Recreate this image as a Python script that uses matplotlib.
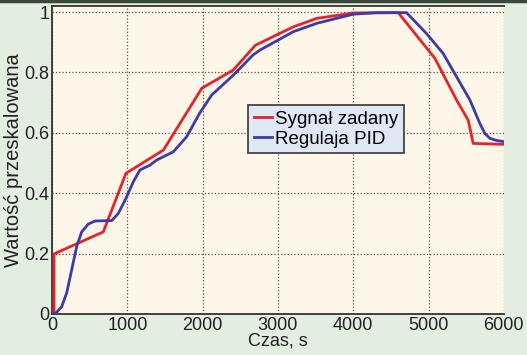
import matplotlib
matplotlib.use("Agg")
import matplotlib.pyplot as plt
from matplotlib.lines import Line2D

plt.rcParams['font.family'] = ['Liberation Sans', 'DejaVu Sans']

# Setpoint (Sygnał zadany)
t_set = [0, 27, 27, 681, 982, 1480, 1990, 2407, 2700, 3204, 3514, 4000, 4598,
         5084, 5372, 5527, 5593, 6000]
v_set = [0, 0, 0.199, 0.272, 0.466, 0.543, 0.748, 0.808, 0.89, 0.951, 0.979, 0.997, 0.998,
         0.847, 0.709, 0.642, 0.565, 0.562]

# PID response (Regulaja PID)
t_pid = [0, 40, 128, 195, 261, 327, 394, 482, 571, 704, 792, 880, 982, 1080, 1168, 1301,
         1390, 1610, 1788, 1960, 2120, 2407, 2670, 2761, 3204, 3520, 4000, 4310, 4708,
         4973, 5194, 5372, 5549, 5682, 5748, 5814, 5900, 6000]
v_pid = [0, 0, 0.024, 0.07, 0.146, 0.223, 0.272, 0.298, 0.308, 0.309, 0.309, 0.333, 0.383,
         0.438, 0.477, 0.493, 0.51, 0.537, 0.587, 0.665, 0.725, 0.791, 0.858, 0.874, 0.935,
         0.963, 0.993, 0.998, 0.998, 0.929, 0.863, 0.786, 0.709, 0.631, 0.598, 0.582, 0.575,
         0.571]

x_ticks = [0, 1000, 2000, 3000, 4000, 5000, 6000]
y_ticks = [0, 0.2, 0.4, 0.6, 0.8, 1.0]
y_ticklabels = ['0', '0.2', '0.4', '0.6', '0.8', '1']

fig = plt.figure(figsize=(5.27, 3.55), dpi=100, facecolor='#e2eee0')
ax = fig.add_axes([0.0987, 0.1155, 0.8573, 0.8675])
ax.set_facecolor('#fdf6e9')

ax.plot(t_set, v_set, color='#e4232b', lw=2.0, label='Sygnał zadany', zorder=3)
ax.plot(t_pid, v_pid, color='#3b3ca8', lw=2.0, label='Regulaja PID', zorder=3)

ax.set_xlim(0, 6000)
ax.set_ylim(0, 1.02)
ax.set_xticks(x_ticks)
ax.set_yticks(y_ticks)
ax.set_yticklabels(y_ticklabels)
ax.tick_params(axis='both', labelsize=13, length=0, pad=2, colors='#222222')
ax.grid(True, linestyle=':', color='#555555', lw=0.9)
ax.set_axisbelow(True)

for s in ['left', 'bottom', 'top']:
    ax.spines[s].set_color('#333333')
    ax.spines[s].set_linewidth(1.3)
ax.spines['right'].set_visible(False)

ax.set_xlabel('Czas, s', fontsize=13, labelpad=-1, color='#222222')
ax.set_ylabel('Wartość przeskalowana', fontsize=14.5, labelpad=1, color='#222222')

leg = ax.legend(loc='upper left', bbox_to_anchor=(0.434, 0.679), borderaxespad=0,
                fontsize=13.5, handlelength=1.0, handletextpad=0.15, borderpad=0.3,
                labelspacing=0.15, fancybox=False, framealpha=1, facecolor='#dfe8f4',
                edgecolor='#444444')
leg.get_frame().set_linewidth(1.3)

fig.add_artist(Line2D([0, 1], [0.997, 0.997], transform=fig.transFigure,
                      color='#3a473a', lw=2.5))

fig.savefig('out.png', dpi=100, facecolor=fig.get_facecolor())
